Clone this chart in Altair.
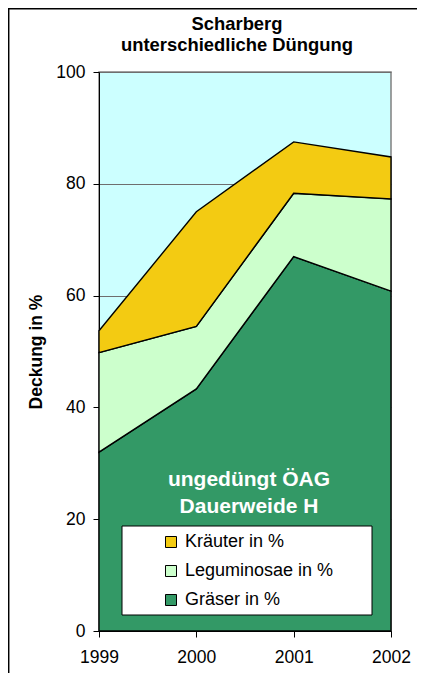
import altair as alt
import pandas as pd

years = [1999, 2000, 2001, 2002]
graeser = [32.0, 43.3, 67.0, 60.8]
leguminosae = [17.8, 11.2, 11.3, 16.5]
kraeuter = [3.9, 20.5, 9.2, 7.5]

series_names = ["Kräuter in %", "Leguminosae in %", "Gräser in %"]
series_colors = ["#F3CB12", "#CCFFCC", "#339966"]
y_ticks = [0, 20, 40, 60, 80, 100]
title_lines = ["Scharberg", "unterschiedliche Düngung"]
note_lines = ["ungedüngt ÖAG", "Dauerweide H"]
y_title = "Deckung in %"

FONT = "Liberation Sans"

rows = []
for name, vals, order in [("Gräser in %", graeser, 0),
                          ("Leguminosae in %", leguminosae, 1),
                          ("Kräuter in %", kraeuter, 2)]:
    for yr, v in zip(years, vals):
        rows.append({"year": yr, "value": v, "series": name, "ord": order})
df = pd.DataFrame(rows)

area = alt.Chart(df).mark_area(stroke="black", strokeWidth=1.4, opacity=1, line=False).encode(
    x=alt.X("year:Q",
            scale=alt.Scale(domain=[1999, 2002], nice=False, zero=False),
            axis=alt.Axis(values=years, format="d", title=None, grid=False,
                          labelFlush=False, labelOverlap=False,
                          labelFontSize=17.5, labelFont=FONT, labelColor="black",
                          tickSize=6, tickColor="black", domainColor="black",
                          labelPadding=11)),
    y=alt.Y("value:Q", stack="zero",
            scale=alt.Scale(domain=[0, 100], nice=False),
            axis=alt.Axis(values=y_ticks, title=y_title, grid=True,
                          gridColor="#6e6e6e", gridWidth=1,
                          labelFontSize=17.5, labelFont=FONT, labelColor="black",
                          tickSize=6, tickColor="black", domainColor="black",
                          labelPadding=8, titleFont=FONT, titleFontSize=17.5,
                          titleFontWeight="bold", titleColor="black",
                          titlePadding=10)),
    color=alt.Color("series:N",
                    scale=alt.Scale(domain=series_names, range=series_colors),
                    legend=alt.Legend(title=None, orient="none", legendX=63, legendY=461,
                                      symbolType="square", symbolSize=121,
                                      symbolStrokeColor="black", symbolStrokeWidth=1,
                                      symbolOpacity=1,
                                      labelFont=FONT, labelFontSize=18, labelColor="black",
                                      labelOffset=5, rowPadding=11, padding=0)),
    order=alt.Order("ord:Q"),
)

one = pd.DataFrame({"a": [0]})

legend_box = alt.Chart(one).mark_rect(fill="white", stroke="black", strokeWidth=1).encode(
    x=alt.value(23), x2=alt.value(273), y=alt.value(454), y2=alt.value(543)
)


def text_layer(txt, x, y, size, color, baseline="middle"):
    return alt.Chart(one).mark_text(text=txt, font=FONT, fontSize=size, fontWeight="bold",
                                    color=color, align="center", baseline=baseline,
                                    clip=False).encode(x=alt.value(x), y=alt.value(y))


note1 = text_layer(note_lines[0], 150, 408, 21, "white")
note2 = text_layer(note_lines[1], 150, 435, 21, "white")
title1 = text_layer(title_lines[0], 138, -42, 18.4, "black", "alphabetic")
title2 = text_layer(title_lines[1], 138, -21, 18.4, "black", "alphabetic")

frame = alt.Chart(one).mark_rect(fill=None, stroke="black", strokeWidth=1.5, clip=False).encode(
    x=alt.value(-90.3), x2=alt.value(600), y=alt.value(-63.3), y2=alt.value(800)
)

chart = alt.layer(area, legend_box, note1, note2, title1, title2, frame).properties(
    width=292, height=559,
    padding={"left": 91, "top": 64, "right": 26, "bottom": 42},
    autosize=alt.AutoSizeParams(type="none"),
    background="white",
).configure_view(
    fill="#CCFFFF", stroke="#808080", strokeWidth=1.5
)

chart.save("out.html", embed_options={"renderer": "svg", "actions": False})
